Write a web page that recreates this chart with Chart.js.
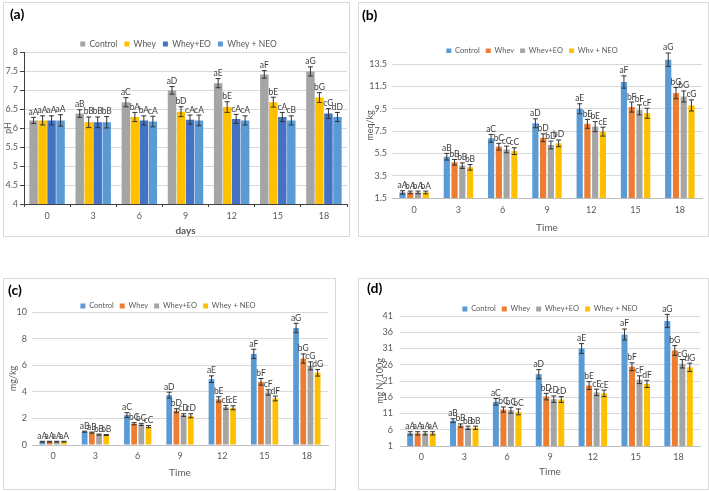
<!DOCTYPE html>
<html>
<head>
<meta charset="utf-8">
<script src="https://cdn.jsdelivr.net/npm/chart.js@4.4.1/dist/chart.umd.min.js"></script>
<style>
  body { margin: 0; width: 709px; height: 491px; background: #fff; position: relative; overflow: hidden; }
  .panel { position: absolute; border: 1px solid #d9d9d9; box-sizing: border-box; background: #fff; }
  .panel canvas { display: block; }
</style>
</head>
<body>
<div class="panel" style="left:3px;top:2px;width:347px;height:235px"><canvas id="chartA"></canvas></div>
<div class="panel" style="left:358px;top:2px;width:351px;height:235px"><canvas id="chartB"></canvas></div>
<div class="panel" style="left:3px;top:278px;width:333px;height:212px"><canvas id="chartC"></canvas></div>
<div class="panel" style="left:358px;top:278px;width:351px;height:212px"><canvas id="chartD"></canvas></div>
<script>
const FONT = 'Lato, "Open Sans", sans-serif';
const days = ['0', '3', '6', '9', '12', '15', '18'];

// (a) pH
const phNames = ['Control', 'Whey', 'Whey+EO', 'Whey + NEO'];
const phColors = ['#a5a5a5', '#ffc000', '#4472c4', '#5b9bd5'];
const phTicks = [4, 4.5, 5, 5.5, 6, 6.5, 7, 7.5, 8];
const phValues = [
  [6.2, 6.38, 6.68, 6.99, 7.18, 7.41, 7.49],
  [6.2, 6.15, 6.29, 6.43, 6.55, 6.68, 6.8],
  [6.2, 6.15, 6.2, 6.22, 6.24, 6.29, 6.38],
  [6.2, 6.15, 6.17, 6.2, 6.2, 6.2, 6.29]
];
const phErrors = [
  [0.08, 0.1, 0.12, 0.1, 0.12, 0.1, 0.12],
  [0.12, 0.14, 0.12, 0.13, 0.14, 0.13, 0.13],
  [0.12, 0.14, 0.12, 0.12, 0.12, 0.12, 0.13],
  [0.15, 0.15, 0.14, 0.14, 0.12, 0.12, 0.12]
];
const phLetters = [
  ['aA', 'aB', 'aC', 'aD', 'aE', 'aF', 'aG'],
  ['aA', 'bB', 'bA', 'bD', 'bE', 'bE', 'bG'],
  ['aA', 'bB', 'bA', 'cA', 'cA', 'cA', 'cG'],
  ['aA', 'bB', 'cA', 'cA', 'cA', 'cB', 'dD']
];

// (b) meq/kg
const pvNames = ['Control', 'Whey', 'Whey+EO', 'Why + NEO'];
const pvTicks = [1.5, 3.5, 5.5, 7.5, 9.5, 11.5, 13.5];
const pvValues = [
  [2.0, 5.2, 6.85, 8.2, 9.5, 11.9, 13.9],
  [2.0, 4.7, 6.1, 6.9, 8.15, 9.65, 10.9],
  [2.0, 4.4, 5.85, 6.25, 7.9, 9.4, 10.6],
  [2.0, 4.25, 5.7, 6.4, 7.45, 9.1, 9.8]
];
const pvErrors = [
  [0.15, 0.3, 0.35, 0.4, 0.45, 0.55, 0.6],
  [0.12, 0.25, 0.3, 0.35, 0.4, 0.45, 0.5],
  [0.12, 0.25, 0.3, 0.35, 0.45, 0.45, 0.5],
  [0.12, 0.25, 0.3, 0.3, 0.4, 0.45, 0.5]
];
const pvLetters = [
  ['aA', 'aB', 'aC', 'aD', 'aE', 'aF', 'aG'],
  ['bA', 'bB', 'bC', 'bD', 'bE', 'bF', 'bG'],
  ['bA', 'bB', 'cC', 'bD', 'bE', 'bF', 'bG'],
  ['bA', 'bB', 'cC', 'bD', 'cE', 'cF', 'cG']
];

// (c) mg/kg
const mdaNames = ['Control', 'Whey', 'Whey+EO', 'Whey + NEO'];
const mdaTicks = [0, 1, 2, 3, 4, 5, 6, 7, 8, 9, 10];
const mdaValues = [
  [0.25, 1.0, 2.25, 3.75, 4.95, 6.85, 8.8],
  [0.25, 0.93, 1.6, 2.58, 3.43, 4.75, 6.5],
  [0.25, 0.78, 1.55, 2.25, 2.83, 3.95, 5.95],
  [0.25, 0.75, 1.38, 2.2, 2.8, 3.5, 5.43]
];
const mdaErrors = [
  [0.03, 0.04, 0.18, 0.22, 0.25, 0.35, 0.35],
  [0.03, 0.04, 0.08, 0.15, 0.2, 0.25, 0.35],
  [0.03, 0.04, 0.08, 0.1, 0.15, 0.2, 0.3],
  [0.03, 0.04, 0.08, 0.15, 0.15, 0.18, 0.25]
];
const mdaLetters = [
  ['aA', 'aB', 'aC', 'aD', 'aE', 'aF', 'aG'],
  ['aA', 'aB', 'bC', 'bD', 'bE', 'bF', 'bG'],
  ['aA', 'bB', 'bC', 'cD', 'cE', 'cF', 'cG'],
  ['aA', 'bB', 'cC', 'cD', 'cE', 'dF', 'dG']
];

// (d) mg N/100g
const tvbNames = ['Control', 'Whey', 'Whey+EO', 'Whey + NEO'];
const tvbTicks = [1, 6, 11, 16, 21, 26, 31, 36, 41];
const tvbValues = [
  [4.9, 8.8, 14.6, 23.1, 31.0, 35.3, 39.5],
  [4.9, 7.3, 12.2, 16.2, 19.6, 25.4, 30.4],
  [4.9, 6.6, 12.0, 15.4, 17.5, 21.4, 26.3],
  [4.9, 6.6, 11.5, 15.3, 17.2, 20.1, 25.2]
];
const tvbErrors = [
  [0.5, 0.6, 1.0, 1.4, 1.5, 1.7, 2.0],
  [0.5, 0.5, 0.8, 1.0, 1.2, 1.2, 1.5],
  [0.5, 0.5, 0.9, 1.0, 1.0, 1.2, 1.3],
  [0.5, 0.5, 0.9, 0.9, 1.0, 1.1, 1.3]
];
const tvbLetters = [
  ['aA', 'aB', 'aC', 'aD', 'aE', 'aF', 'aG'],
  ['aA', 'bB', 'bC', 'bD', 'bE', 'bF', 'bG'],
  ['aA', 'bB', 'bC', 'cD', 'cE', 'cF', 'cG'],
  ['aA', 'bB', 'bC', 'cD', 'cE', 'dF', 'dG']
];

const officeColors = ['#5b9bd5', '#ed7d31', '#a5a5a5', '#ffc000'];

// fixes the legend box height so the plot can start right under (or behind) it
const legendHeightPlugin = {
  id: 'legendHeight',
  beforeLayout(chart, args, opts) {
    const lg = chart.legend;
    if (!lg || lg._fixedHeight) return;
    const fit = lg.fit;
    const h = opts.height;
    lg.fit = function () { fit.call(this); this.height = h; };
    lg._fixedHeight = true;
  }
};

// let the y axis run to the canvas edge so its labels are not clipped by the layout padding
const yEdgePlugin = {
  id: 'yEdge',
  afterLayout(chart) {
    const y = chart.scales.y;
    y.left = 0;
    y.width = y.right;
  }
};

// error bars + significance letters
const errorBarPlugin = {
  id: 'errorBars',
  afterDatasetsDraw(chart, args, opts) {
    const { ctx } = chart;
    const yScale = chart.scales.y;
    chart.data.datasets.forEach((ds, i) => {
      const meta = chart.getDatasetMeta(i);
      meta.data.forEach((bar, j) => {
        const v = ds.data[j], e = ds.errors[j];
        const top = yScale.getPixelForValue(v + e);
        const bot = yScale.getPixelForValue(v - e);
        ctx.save();
        ctx.strokeStyle = opts.color;
        ctx.lineWidth = 1;
        ctx.beginPath();
        ctx.moveTo(bar.x, top); ctx.lineTo(bar.x, bot);
        ctx.moveTo(bar.x - opts.cap, top); ctx.lineTo(bar.x + opts.cap, top);
        ctx.moveTo(bar.x - opts.cap, bot); ctx.lineTo(bar.x + opts.cap, bot);
        ctx.stroke();
        ctx.fillStyle = opts.labelColor;
        ctx.font = opts.labelSize + 'px ' + FONT;
        ctx.textAlign = 'center';
        ctx.textBaseline = 'bottom';
        ctx.fillText(ds.letters[j], bar.x, top - 1);
        ctx.restore();
      });
    });
  }
};

function buildPanel(p) {
  const titleLH = 14 * 1.2;
  const legendTop = p.legendY - p.legendPad - p.legendFont / 2;
  const yTitleLH = p.yTitleFont * 1.2;
  const xTitleLH = p.xTitleFont * 1.2;
  const xTick = p.yAxisLine ? 3 : 0;
  const canvas = document.getElementById(p.id);
  const w = canvas.parentNode.clientWidth, h = canvas.parentNode.clientHeight;
  new Chart(canvas, {
    type: 'bar',
    data: {
      labels: days,
      datasets: p.names.map((name, i) => ({
        label: name,
        data: p.values[i],
        errors: p.errors[i],
        letters: p.letters[i],
        backgroundColor: p.colors[i],
        borderWidth: 0,
        categoryPercentage: p.catPct,
        barPercentage: p.barPct
      }))
    },
    options: {
      responsive: true,
      maintainAspectRatio: false,
      animation: false,
      layout: { padding: { left: p.padLeft, right: w - p.chartRight, top: 0, bottom: 0 } },
      plugins: {
        title: {
          display: true, text: p.tag, align: 'start', color: '#000',
          font: { size: 14, weight: 'bold', family: FONT },
          padding: { top: p.titleY - titleLH / 2, bottom: legendTop - p.titleY - titleLH / 2 }
        },
        legend: {
          position: 'top', fullSize: p.legendFull,
          labels: { boxWidth: 5, boxHeight: 5, padding: p.legendPad, color: '#595959', font: { size: p.legendFont, family: FONT } }
        },
        legendHeight: { height: p.chartTop - legendTop },
        tooltip: { enabled: false },
        errorBars: { color: '#333333', cap: 2.5, labelColor: '#404040', labelSize: 8.5 }
      },
      scales: {
        x: {
          grid: { display: p.yAxisLine, drawOnChartArea: false, drawTicks: p.yAxisLine, tickLength: 3, color: '#404040' },
          border: { display: true, color: p.yAxisLine ? '#404040' : '#bfbfbf' },
          ticks: { color: '#595959', font: { size: 9, family: FONT }, padding: p.xLabelY - p.chartBottom - 5.4 - xTick, maxRotation: 0 },
          title: {
            display: true, text: p.xTitle, color: '#595959',
            font: { size: p.xTitleFont, family: FONT, weight: p.xTitleBold ? 'bold' : 'normal' },
            padding: { top: 0, bottom: h - p.xTitleY - xTitleLH / 2 }
          },
          afterFit: s => { s.height = h - p.chartBottom; }
        },
        y: {
          min: p.ticks[0], max: p.yMax,
          ticks: { color: '#595959', font: { size: 9, family: FONT }, padding: p.yTickPad, callback: v => String(v) },
          afterBuildTicks: s => { s.ticks = p.ticks.map(v => ({ value: v })); },
          grid: { color: '#d9d9d9', drawTicks: p.yAxisLine, tickLength: 4, tickColor: '#404040' },
          border: { display: p.yAxisLine, color: '#404040' },
          title: {
            display: true, text: p.yTitle, color: '#595959',
            font: { size: p.yTitleFont, family: FONT },
            padding: { top: p.yTitleX - yTitleLH / 2, bottom: 0 }
          },
          afterFit: s => { s.width = p.chartLeft - p.padLeft; }
        }
      }
    },
    plugins: [legendHeightPlugin, yEdgePlugin, errorBarPlugin]
  });
}

buildPanel({
  id: 'chartA', tag: '(a)', names: phNames, colors: phColors,
  values: phValues, errors: phErrors, letters: phLetters, ticks: phTicks,
  yMax: 8, yTitle: 'pH', xTitle: 'days', xTitleBold: true,
  padLeft: 6, chartLeft: 20, chartRight: 343, chartTop: 49, chartBottom: 201,
  titleY: 11, legendY: 41, legendPad: 7, legendFont: 8.5, legendFull: true,
  xLabelY: 213, xTitleY: 228, xTitleFont: 10, yTitleX: 4, yTitleFont: 9,
  yTickPad: 2, yAxisLine: true, catPct: 0.78, barPct: 0.94
});

buildPanel({
  id: 'chartB', tag: '(b)', names: pvNames, colors: officeColors,
  values: pvValues, errors: pvErrors, letters: pvLetters, ticks: pvTicks,
  yMax: 14.5, yTitle: 'meq/kg', xTitle: 'Time', xTitleBold: false,
  padLeft: 3, chartLeft: 33, chartRight: 343, chartTop: 50, chartBottom: 195,
  titleY: 12, legendY: 48, legendPad: 6, legendFont: 7.5, legendFull: true,
  xLabelY: 207, xTitleY: 225, xTitleFont: 10, yTitleX: 11, yTitleFont: 9,
  yTickPad: 5, yAxisLine: false, catPct: 0.7, barPct: 0.8
});

buildPanel({
  id: 'chartC', tag: '(c)', names: mdaNames, colors: officeColors,
  values: mdaValues, errors: mdaErrors, letters: mdaLetters, ticks: mdaTicks,
  yMax: 10, yTitle: 'mg/kg', xTitle: 'Time', xTitleBold: false,
  padLeft: 4, chartLeft: 28, chartRight: 324, chartTop: 33, chartBottom: 166,
  titleY: 11, legendY: 27, legendPad: 6, legendFont: 7.5, legendFull: true,
  xLabelY: 177, xTitleY: 194, xTitleFont: 10, yTitleX: 9, yTitleFont: 9,
  yTickPad: 5, yAxisLine: false, catPct: 0.68, barPct: 0.8
});

buildPanel({
  id: 'chartD', tag: '(d)', names: tvbNames, colors: officeColors,
  values: tvbValues, errors: tvbErrors, letters: tvbLetters, ticks: tvbTicks,
  yMax: 41, yTitle: 'mg N/100g', xTitle: 'Time', xTitleBold: false,
  padLeft: 8, chartLeft: 41, chartRight: 341, chartTop: 37, chartBottom: 167,
  titleY: 9, legendY: 30, legendPad: 6, legendFont: 7.5, legendFull: false,
  xLabelY: 178, xTitleY: 193, xTitleFont: 10, yTitleX: 21, yTitleFont: 9,
  yTickPad: 7, yAxisLine: false, catPct: 0.7, barPct: 0.8
});
</script>
</body>
</html>
